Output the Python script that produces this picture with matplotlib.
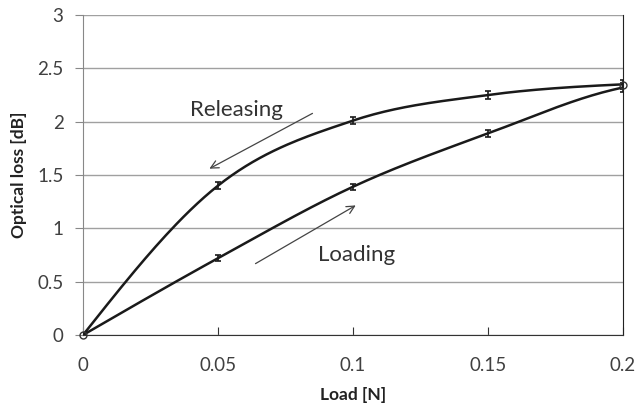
import numpy as np
import matplotlib
matplotlib.use("Agg")
import matplotlib.pyplot as plt

load = [0, 0.05, 0.1, 0.15, 0.2]
loading = [0.0, 0.72, 1.39, 1.89, 2.32]
releasing = [0.0, 1.40, 2.01, 2.25, 2.35]
loading_err = [0.02, 0.03, 0.03, 0.03, 0.04]
releasing_err = [0.02, 0.03, 0.03, 0.04, 0.04]
xticks = [0, 0.05, 0.1, 0.15, 0.2]
yticks = [0, 0.5, 1, 1.5, 2, 2.5, 3]


def smooth(x, y, n=40):
    """Cubic Hermite curve through the points (central-difference tangents,
    blended secant/parabolic tangents at the ends)."""
    x = np.asarray(x, float); y = np.asarray(y, float)
    h = x[1] - x[0]
    m = np.empty_like(y)
    m[1:-1] = (y[2:] - y[:-2]) / (2 * h)
    sec0 = (y[1] - y[0]) / h
    par0 = (-3 * y[0] + 4 * y[1] - y[2]) / (2 * h)
    m[0] = 0.5 * (sec0 + par0)
    m[-1] = (y[-1] - y[-2]) / h * 0.6
    xs, ys = [], []
    for i in range(len(x) - 1):
        t = np.linspace(0, 1, n)
        h00 = 2 * t**3 - 3 * t**2 + 1
        h10 = t**3 - 2 * t**2 + t
        h01 = -2 * t**3 + 3 * t**2
        h11 = t**3 - t**2
        dx = x[i + 1] - x[i]
        xs.append(x[i] + t * dx)
        ys.append(h00 * y[i] + h10 * dx * m[i] + h01 * y[i + 1] + h11 * dx * m[i + 1])
    return np.concatenate(xs), np.concatenate(ys)


plt.rcParams['font.family'] = ['Lato', 'DejaVu Sans']
fig = plt.figure(figsize=(6.39, 4.11), dpi=100)
ax = fig.add_axes([83 / 639, 1 - 335 / 411, 540 / 639, 320 / 411])

for ys, es in [(loading, loading_err), (releasing, releasing_err)]:
    sx, sy = smooth(load, ys)
    ax.plot(sx, sy, color='#1a1a1a', lw=1.8, zorder=3)
    ax.errorbar(load, ys, yerr=es, fmt='none', ecolor='#1a1a1a', elinewidth=1.2,
                capsize=2.5, capthick=1.2, zorder=4)
ax.plot([0, 0.2], [0, 2.34], 'o', ms=5, mfc='none', mec='#333333', mew=1, zorder=5, clip_on=False)

ax.set_xlim(0, 0.2)
ax.set_ylim(0, 3)
ax.set_xticks(xticks)
ax.set_xticklabels(['0', '0.05', '0.1', '0.15', '0.2'])
ax.set_yticks(yticks)
ax.set_yticklabels(['0', '0.5', '1', '1.5', '2', '2.5', '3'])
ax.yaxis.grid(True, color='#a0a0a0', lw=1)
ax.set_axisbelow(True)
ax.spines['top'].set_visible(False)
ax.spines['left'].set_color('#888888')
ax.spines['bottom'].set_color('#333333')
ax.spines['right'].set_color('#222222')
ax.tick_params(axis='x', direction='in', length=6, color='#333333', labelsize=13.5,
               labelcolor='#404040', pad=16)
ax.tick_params(axis='y', direction='out', length=6, color='#888888', labelsize=13.5,
               labelcolor='#404040', pad=8)
ax.set_xlabel('Load [N]', fontsize=12.5, fontweight='bold', color='#222222', labelpad=9)
ax.set_ylabel('Optical loss [dB]', fontsize=12.5, fontweight='bold', color='#222222', labelpad=7)

ax.text(0.057, 2.11, 'Releasing', fontsize=16, ha='center', va='center', color='#333333')
ax.annotate('', xy=(0.0459, 1.547), xytext=(0.0859, 2.09),
            arrowprops=dict(arrowstyle='->', color='#444444', lw=0.9, mutation_scale=14))
ax.text(0.1015, 0.75, 'Loading', fontsize=16, ha='center', va='center', color='#333333')
ax.annotate('', xy=(0.1019, 1.228), xytext=(0.063, 0.656),
            arrowprops=dict(arrowstyle='->', color='#444444', lw=0.9, mutation_scale=14))

fig.savefig('out.png', dpi=100)
